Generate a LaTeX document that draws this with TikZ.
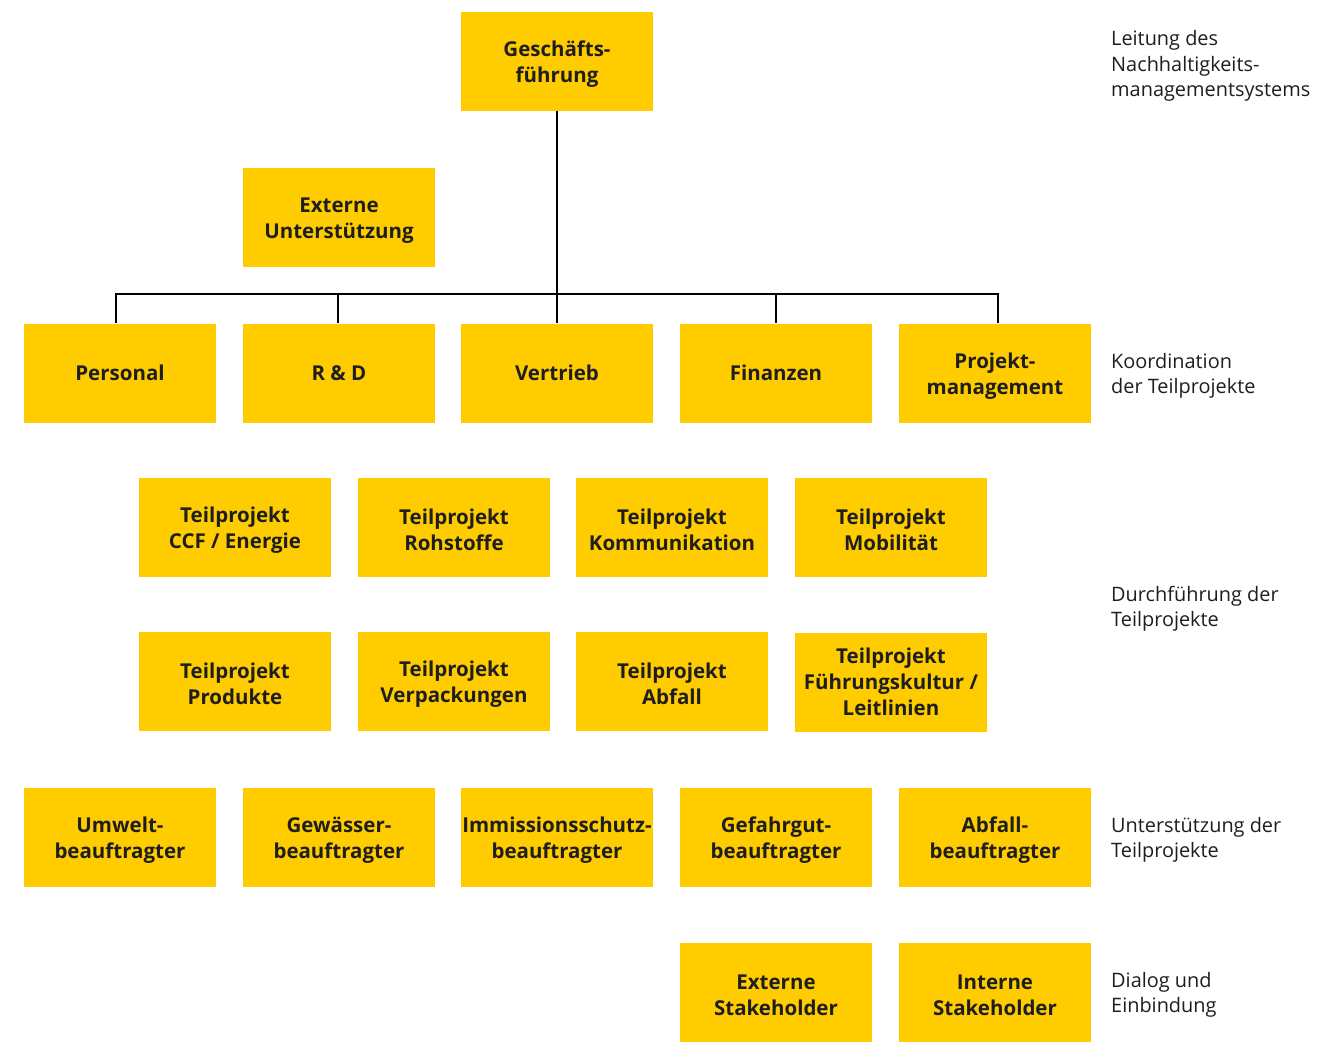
\documentclass[tikz,border=0pt]{standalone}
\usepackage{fontspec}
\setmainfont{Open Sans}
\usepackage{tikz}
\usetikzlibrary{positioning}
\definecolor{boxyellow}{HTML}{FFCC00}
\definecolor{textgray}{HTML}{1E1E1E}

\begin{document}
\begin{tikzpicture}
	[x=1pt,y=-1pt,
	every node/.style={rectangle,fill=boxyellow,minimum width=192pt,minimum height=99pt,inner sep=0pt,align=center,
		font=\bfseries\fontsize{20.5}{26}\selectfont,text=textgray},
	twoline/.style={execute at begin node={\rule{0pt}{48pt}}},
	level/.style={fill=none,minimum width=0pt,minimum height=0pt,anchor=west,align=left,
		font=\fontsize{19.9}{25.5}\selectfont,text=textgray}]
	\useasboundingbox (0,0) rectangle (1332,1042);
	% Leitung
	\node[twoline] (gf) at (557,61) {Gesch\"afts-\\f\"uhrung};
	\node[twoline] (ext) at (339,217) {Externe\\Unterst\"utzung};
	% Koordination
	\node (pers) at (120,373) {Personal};
	\node (rd) at (339,373) {R \& D};
	\node (vert) at (557,373) {Vertrieb};
	\node (fin) at (776,373) {Finanzen};
	\node[twoline] (pm) at (995,373) {Projekt-\\management};
	% Teilprojekte
	\node[twoline] (tp1) at (235,527) {Teilprojekt\\CCF / Energie};
	\node[twoline] (tp2) at (454,527) {Teilprojekt\\Rohstoffe};
	\node[twoline] (tp3) at (672,527) {Teilprojekt\\Kommunikation};
	\node[twoline] (tp4) at (891,527) {Teilprojekt\\Mobilit\"at};
	\node[twoline] (tp5) at (235,681) {Teilprojekt\\Produkte};
	\node[twoline] (tp6) at (454,681) {Teilprojekt\\Verpackungen};
	\node[twoline] (tp7) at (672,681) {Teilprojekt\\Abfall};
	\node (tp8) at (891,682) {Teilprojekt\\F\"uhrungskultur /\\Leitlinien};
	% Beauftragte
	\node[twoline] (bu) at (120,837) {Umwelt-\\beauftragter};
	\node[twoline] (bg) at (339,837) {Gew\"asser-\\beauftragter};
	\node[twoline] (bi) at (557,837) {Immissionsschutz-\\beauftragter};
	\node[twoline] (bf) at (776,837) {Gefahrgut-\\beauftragter};
	\node[twoline] (ba) at (995,837) {Abfall-\\beauftragter};
	% Stakeholder
	\node[twoline] (sext) at (776,992) {Externe\\Stakeholder};
	\node[twoline] (sint) at (995,992) {Interne\\Stakeholder};
	% Ebenen
	\node[level] (l1) at (1111,66) {Leitung des\\Nachhaltigkeits-\\managementsystems};
	\node[level] (l2) at (1111,376) {Koordination\\der Teilprojekte};
	\node[level] (l3) at (1111,609) {Durchf\"uhrung der\\Teilprojekte};
	\node[level] (l4) at (1111,840) {Unterst\"utzung der\\Teilprojekte};
	\node[level] (l5) at (1111,995) {Dialog und\\Einbindung};

	\coordinate (bar) at (557,294);
	\draw[line width=2.5pt] (gf.south) -- (bar);
	\foreach \to/\dx in {pers/-4, rd/-1, vert/0, fin/0, pm/3}
	\draw[line width=2.5pt] (bar) -| ([xshift=\dx pt]\to.north);
	\end{tikzpicture}
\end{document}
